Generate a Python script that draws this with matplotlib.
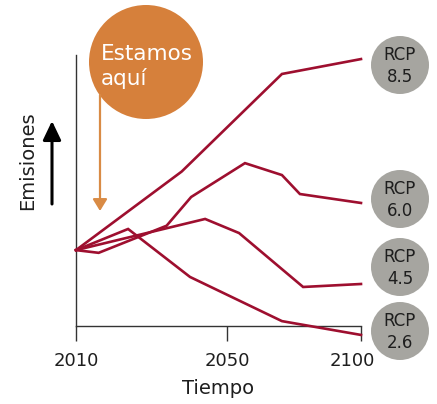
import numpy as np
import matplotlib
matplotlib.use("Agg")
import matplotlib.pyplot as plt
import matplotlib.transforms as mtransforms
from matplotlib.patches import Circle

plt.rcParams['font.family'] = ['DejaVu Sans']

# data (arbitrary emission units, 0 = x axis)
years_85 = [2010, 2038, 2070.5, 2100]
rcp_85 = [28, 57, 93, 98.5]

years_60 = [2010, 2016, 2034, 2040.5, 2056.7, 2070.5, 2077.2, 2100]
rcp_60 = [28, 27, 37, 47.6, 60.1, 55.7, 48.7, 45.4]

years_45 = [2010, 2044.2, 2054.5, 2078.4, 2100]
rcp_45 = [28, 39.5, 34.3, 14.4, 15.5]

years_26 = [2010, 2023.8, 2040.2, 2070.5, 2100]
rcp_26 = [28, 35.8, 18.1, 1.8, -3.3]

tick_years = [2010, 2050, 2100]
rcp_labels = ["RCP\n8.5", "RCP\n6.0", "RCP\n4.5", "RCP\n2.6"]

LINE = '#9E0F2F'
GREY = '#A6A5A0'
ORANGE = '#D6803B'
TEXT = '#1E1E1E'

# the time axis in the original is not linear between the labelled years
tick_px = [0, 151, 285]


def fwd(x):
    return np.interp(x, tick_years, tick_px)


def inv(x):
    return np.interp(x, tick_px, tick_years)


fig = plt.figure(figsize=(4.37, 4.04), dpi=100)
W, H = 437, 404
ax = fig.add_axes([76 / W, (H - 326) / H, (361 - 76) / W, (326 - 55) / H])
ax.set_xscale('function', functions=(fwd, inv))

for xs, ys in [(years_85, rcp_85), (years_60, rcp_60),
               (years_45, rcp_45), (years_26, rcp_26)]:
    ax.plot(xs, ys, color=LINE, lw=1.9, clip_on=False, zorder=3,
            solid_joinstyle='miter')

ax.set_xlim(2010, 2100)
ax.set_ylim(0, 100)
ax.set_xticks(tick_years)
ax.set_xticklabels([str(y) for y in tick_years])
ax.set_yticks([])
ax.tick_params(axis='x', length=11, width=1, color='#333333', pad=8,
               labelsize=13, labelcolor=TEXT)
# last label sits a little left of its tick, clear of the grey circle
last = ax.get_xticklabels()[-1]
last.set_transform(last.get_transform() +
                   mtransforms.ScaledTranslation(-9 / 100, 0, fig.dpi_scale_trans))
for side in ['top', 'right']:
    ax.spines[side].set_visible(False)
for side in ['left', 'bottom']:
    ax.spines[side].set_color('#333333')
    ax.spines[side].set_linewidth(1)
ax.patch.set_alpha(0)
ax.set_xlabel("Tiempo", fontsize=14, color=TEXT, labelpad=6)

# overlay in pixel units for the callouts
ov = fig.add_axes([0, 0, 1, 1], zorder=5)
ov.set_xlim(0, W)
ov.set_ylim(H, 0)
ov.axis('off')
ov.patch.set_alpha(0)

ov.add_patch(Circle((146, 62), 57, color=ORANGE, lw=0))
ov.text(101, 60, "Estamos", color='white', fontsize=15.5, ha='left', va='baseline')
ov.text(101, 85, "aquí", color='white', fontsize=15.5, ha='left', va='baseline')
ov.annotate('', xy=(100, 211), xytext=(100, 95),
            arrowprops=dict(arrowstyle='-|>,head_width=0.43,head_length=0.7',
                            color='#D98B45', lw=1.6, shrinkA=0, shrinkB=0))

ov.annotate('', xy=(52, 121), xytext=(52, 204),
            arrowprops=dict(arrowstyle='-|>,head_width=0.55,head_length=1.15',
                            color='black', lw=2.2, shrinkA=0, shrinkB=0))
ov.text(28, 161, "Emisiones", rotation=90, fontsize=14, color=TEXT,
        ha='center', va='center')

for lab, cy in zip(rcp_labels, [65, 199, 267, 331]):
    ov.add_patch(Circle((400, cy), 29, color=GREY, lw=0))
    ov.text(400, cy + 1, lab, ha='center', va='center', fontsize=12,
            color=TEXT, linespacing=1.25)

fig.savefig('out.png', dpi=100)
